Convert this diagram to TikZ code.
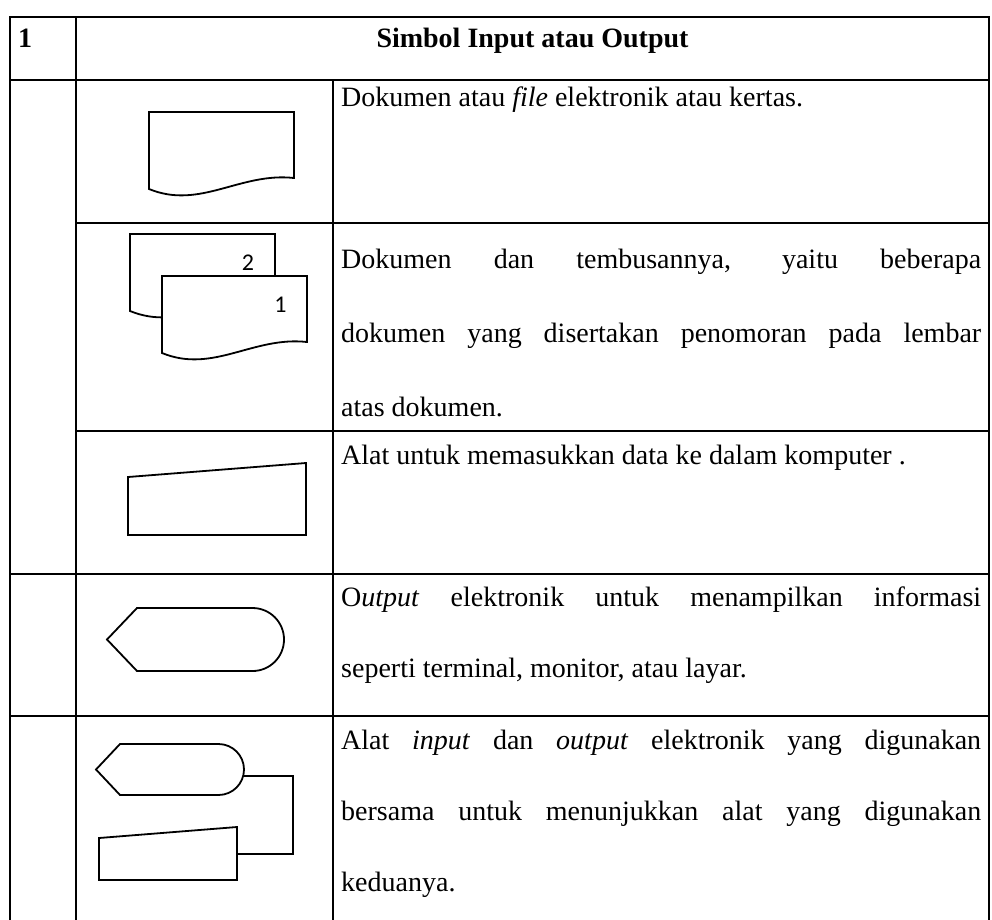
\documentclass[tikz,border=0pt]{standalone}
\usepackage{fontspec}
\setmainfont{Liberation Serif}
\newfontfamily\labelfont{Carlito}
% one justified line of a table cell
\newcommand\jline[1]{\makebox[640pt][s]{#1}}
\begin{document}
\begin{tikzpicture}[x=1pt,y=-1pt,
  grid/.style={line width=2pt, line cap=rect},
  symbol/.style={line width=1.8pt, line join=miter, fill=white},
  cell/.style={anchor=base west, inner sep=0pt, font=\fontsize{28}{71}\selectfont},
  head/.style={anchor=base, inner sep=0pt, font=\fontsize{28}{34}\selectfont\bfseries},
  num/.style={inner sep=0pt, font=\labelfont\fontsize{24}{28}\selectfont},
  docshape/.pic={
    \draw[symbol] (0,0) -- (145,0) -- (145,66)
      .. controls (91,60) and (51,98) .. (0,77) -- cycle;
  }]
\useasboundingbox (0,0) rectangle (992,919);

% table grid
\draw[grid] (10,17) -- (989,17);
\draw[grid] (10,80) -- (989,80);
\draw[grid] (76,223) -- (989,223);
\draw[grid] (76,431) -- (989,431);
\draw[grid] (10,574) -- (989,574);
\draw[grid] (10,716) -- (989,716);
\draw[grid] (10,17) -- (10,919);
\draw[grid] (76,17) -- (76,919);
\draw[grid] (333,80) -- (333,919);
\draw[grid] (989,17) -- (989,919);

% header
\node[head, anchor=base west] (hnum) at (18,47) {1};
\node[head] (htitle) at (532.5,47) {Simbol Input atau Output};

% row 1: document
\pic at (149,112) {docshape};

% row 2: document with copies
\pic at (130,234) {docshape};
\pic at (162,276) {docshape};
\node[num] (copy2) at (248,263) {2};
\node[num] (copy1) at (280.5,305) {1};

% row 3: manual input
\draw[symbol] (128,477) -- (306,463) -- (306,535) -- (128,535) -- cycle;

% row 4: display
\draw[symbol] (107,639.5) -- (137,608) -- (252.5,608)
  arc[start angle=90, end angle=-90, radius=31.5pt] -- (137,671) -- cycle;

% row 5: display linked to manual input
\draw[symbol] (96,769.5) -- (120,744) -- (218.5,744)
  arc[start angle=90, end angle=-90, radius=25.5pt] -- (120,795) -- cycle;
\draw[symbol] (99,838) -- (237,827) -- (237,880) -- (99,880) -- cycle;
\coordinate (dispout) at (243.2,776);
\coordinate (inpin) at (237,854);
\draw[line width=1.8pt] (dispout) -- ++(49.8,0) |- (inpin);

% descriptions
\node[cell] (d1) at (341,106) {Dokumen atau \textit{file} elektronik atau kertas.};
\node[cell] (d2) at (341,268) {\parbox[t]{640pt}{\fontsize{28}{74}\selectfont
  \jline{Dokumen dan tembusannya, yaitu beberapa}\\
  \jline{dokumen yang disertakan penomoran pada lembar}\\
  atas dokumen.}};
\node[cell] (d3) at (341,464) {Alat untuk memasukkan data ke dalam komputer .};
\node[cell] (d4) at (341,606) {\parbox[t]{640pt}{%
  \jline{O\textit{utput} elektronik untuk menampilkan informasi}\\
  seperti terminal, monitor, atau layar.}};
\node[cell] (d5) at (341,749) {\parbox[t]{640pt}{%
  \jline{Alat \textit{input} dan \textit{output} elektronik yang digunakan}\\
  \jline{bersama untuk menunjukkan alat yang digunakan}\\
  keduanya.}};
\end{tikzpicture}
\end{document}
